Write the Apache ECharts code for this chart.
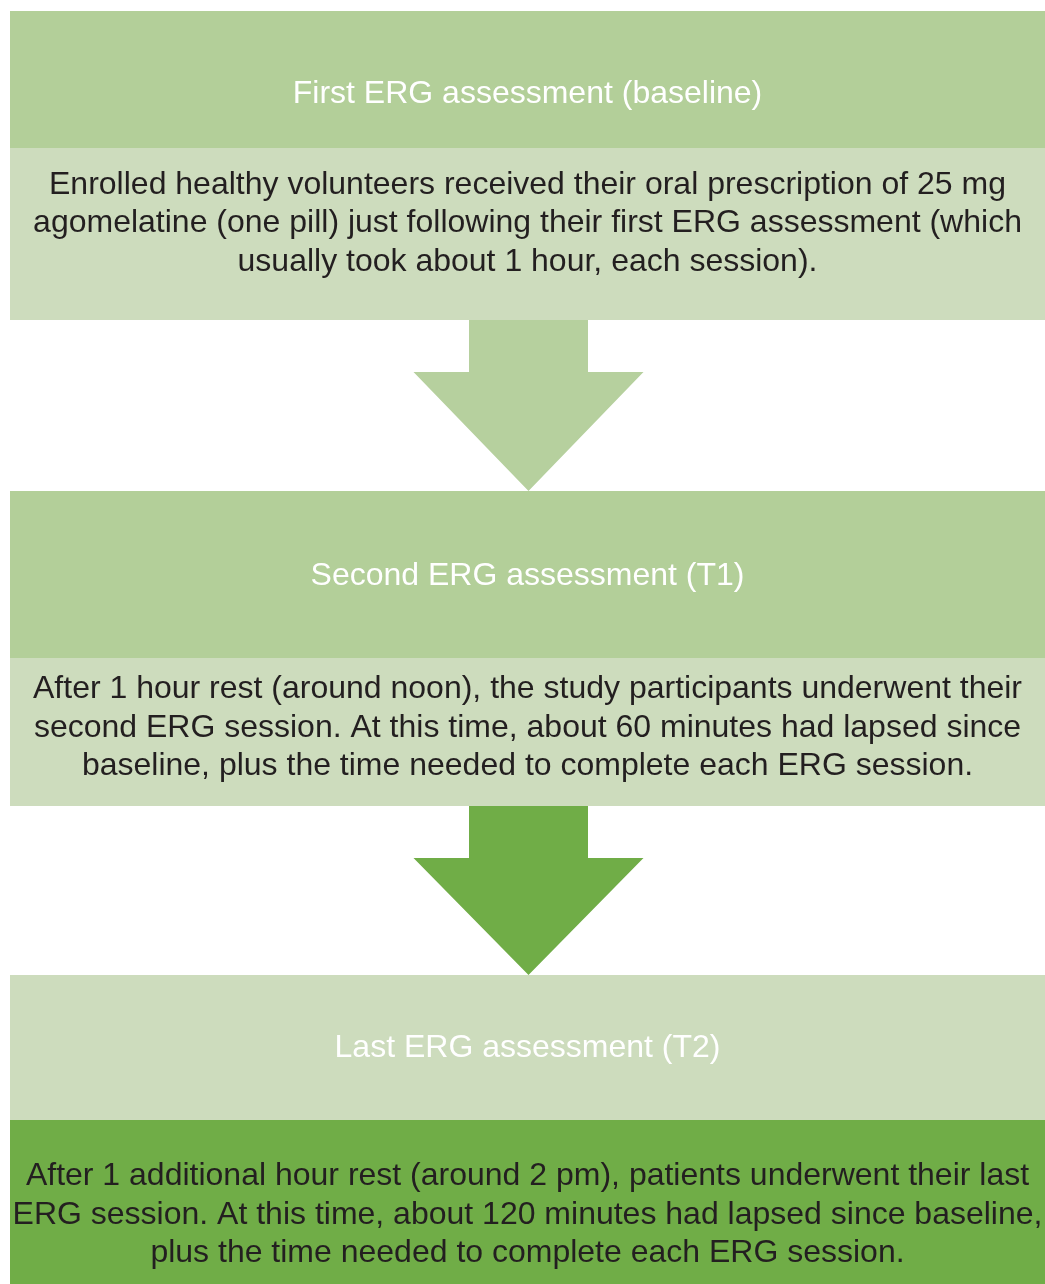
<!DOCTYPE html>
<html>
<head>
<meta charset="utf-8">
<script src="https://cdn.jsdelivr.net/npm/echarts@6/dist/echarts.min.js"></script>
<style>
  html, body { margin: 0; padding: 0; background: #fff; }
  #chart { width: 1045px; height: 1284px; }
</style>
</head>
<body>
<div id="chart"></div>
<script>
// Step titles (header band of each stage).
const stageTitles = [
    'First ERG assessment (baseline)',
    'Second ERG assessment (T1)',
    'Last ERG assessment (T2)'
];

// Step descriptions, with the line breaks of the original.
const stageNotes = [
    'Enrolled healthy volunteers received their oral prescription of 25 mg\nagomelatine (one pill) just following their first ERG assessment (which\nusually took about 1 hour, each session).',
    'After 1 hour rest (around noon), the study participants underwent their\nsecond ERG session. At this time, about 60 minutes had lapsed since\nbaseline, plus the time needed to complete each ERG session.',
    'After 1 additional hour rest (around 2 pm), patients underwent their last\nERG session. At this time, about 120 minutes had lapsed since baseline,\nplus the time needed to complete each ERG session.'
];

// Layout (page pixels, y grows downwards).
const boxLeft = 10;
const boxRight = 1045;
const headerTop = [11, 491, 975];
const headerBottom = [148, 658, 1120];
const bodyBottom = [320, 806, 1284];
const titleY = [94, 576, 1048];
const noteY = [223.5, 728, 1215];
const arrowCenterX = 528.5;
const shaftHalf = 59.5;
const headHalf = 115;
const shaftLength = 52;

// Colours.
const headerColors = ['#b3cf99', '#b3cf99', '#cddcbd'];
const bodyColors = ['#cddcbd', '#cddcbd', '#70ad47'];
const arrowColors = ['#b6d09e', '#70ad47'];

const chart = echarts.init(document.getElementById('chart'));

const renderStage = (params, api) => {
    const i = params.dataIndex;
    const pt = (x, y) => api.coord([x, y]);
    const rect = (x1, y1, x2, y2, fill) => {
        const a = pt(x1, y1);
        const b = pt(x2, y2);
        return {
            type: 'rect',
            shape: {x: a[0], y: a[1], width: b[0] - a[0], height: b[1] - a[1]},
            style: {fill: fill}
        };
    };
    const text = (str, x, y, fill) => {
        const p = pt(x, y);
        return {
            type: 'text',
            style: {
                text: str, x: p[0], y: p[1],
                align: 'center', verticalAlign: 'middle',
                fontFamily: '"Liberation Sans", Arial, sans-serif',
                fontSize: 32, lineHeight: 38.5,
                fill: fill
            }
        };
    };

    const children = [
        rect(boxLeft, headerTop[i], boxRight, headerBottom[i], headerColors[i]),
        rect(boxLeft, headerBottom[i], boxRight, bodyBottom[i], bodyColors[i]),
        text(stageTitles[i], (boxLeft + boxRight) / 2, titleY[i], '#ffffff'),
        text(stageNotes[i], (boxLeft + boxRight) / 2, noteY[i], '#231f20')
    ];

    if (i < stageTitles.length - 1) {
        const top = bodyBottom[i];
        const neck = top + shaftLength;
        const tip = headerTop[i + 1];
        children.push({
            type: 'polygon',
            shape: {
                points: [
                    pt(arrowCenterX - shaftHalf, top),
                    pt(arrowCenterX + shaftHalf, top),
                    pt(arrowCenterX + shaftHalf, neck),
                    pt(arrowCenterX + headHalf, neck),
                    pt(arrowCenterX, tip),
                    pt(arrowCenterX - headHalf, neck),
                    pt(arrowCenterX - shaftHalf, neck)
                ]
            },
            style: {fill: arrowColors[i]}
        });
    }

    return {type: 'group', children: children};
};

chart.setOption({
    animation: false,
    grid: {left: 0, right: 0, top: 0, bottom: 0},
    xAxis: {type: 'value', min: 0, max: 1045, show: false},
    yAxis: {type: 'value', min: 0, max: 1284, inverse: true, show: false},
    series: [{
        type: 'custom',
        renderItem: renderStage,
        data: stageTitles.map((title, i) => [i]),
        encode: {x: 0, y: 0}
    }]
});
</script>
</body>
</html>
